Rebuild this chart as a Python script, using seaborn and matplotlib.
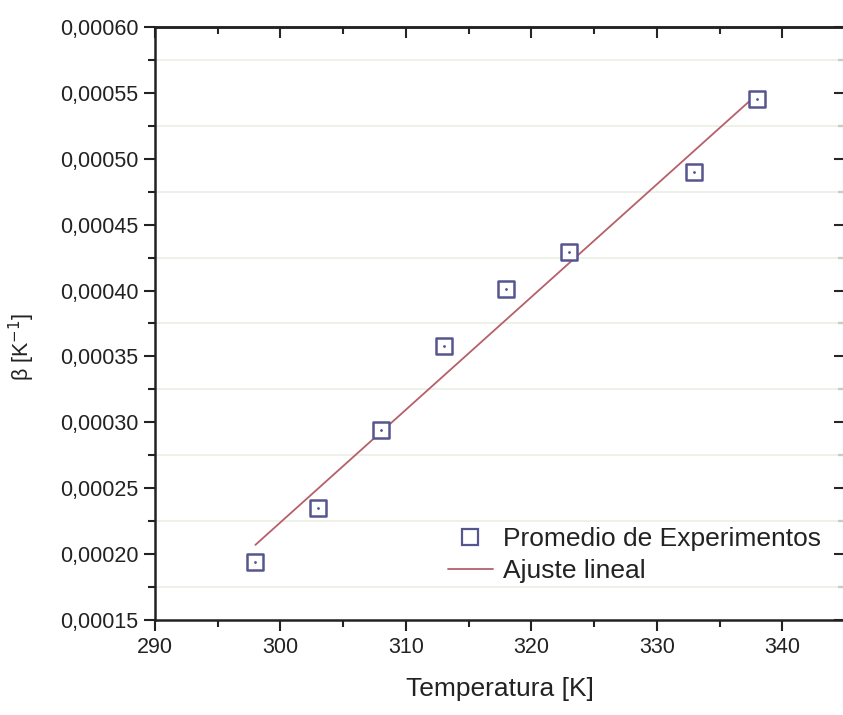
import numpy as np
import pandas as pd
import matplotlib
matplotlib.use("Agg")
import matplotlib.pyplot as plt
from matplotlib.ticker import MultipleLocator, FuncFormatter
from matplotlib.lines import Line2D
import seaborn as sns

# Data
temperatura = [298, 303, 308, 313, 318, 323, 333, 338]
beta = [0.000194, 0.000235, 0.000294, 0.000358, 0.000401, 0.000429, 0.000490, 0.000545]
fit_x = [298, 338]
fit_y = [0.000207, 0.000549]

sns.set_theme(style="white")
plt.rcParams['font.family'] = ['Liberation Sans', 'DejaVu Sans']

fig = plt.figure(figsize=(8.43, 7.15), dpi=100)
ax = fig.add_axes([155/843, 1-620/715, 690/843, (620-27)/715])

df = pd.DataFrame({"T": temperatura, "b": beta})
fit = pd.DataFrame({"T": fit_x, "b": fit_y})

line_color = "#b5606a"
mk_color = "#55558f"

sns.lineplot(data=fit, x="T", y="b", ax=ax, color=line_color, linewidth=1.3, zorder=2)
sns.scatterplot(data=df, x="T", y="b", ax=ax, marker="s", s=145, facecolor="white",
                edgecolor=mk_color, linewidth=1.8, zorder=3)
ax.plot(df["T"], df["b"], linestyle="none", marker=".", markersize=2, color=mk_color, zorder=4)

ax.set_xlim(290, 345)
ax.set_ylim(0.00015, 0.00060)
ax.xaxis.set_major_locator(MultipleLocator(10))
ax.xaxis.set_minor_locator(MultipleLocator(5))
ax.yaxis.set_major_locator(MultipleLocator(0.00005))
ax.yaxis.set_minor_locator(MultipleLocator(0.000025))
ax.yaxis.set_major_formatter(FuncFormatter(lambda v, p: f"{v:.5f}".replace('.', ',')))

ax.grid(False)
for yv in np.arange(0.000175, 0.0006, 0.00005):
    ax.axhline(yv, color="#eaefe4", linewidth=1.2, zorder=1)

for s in ax.spines.values():
    s.set_linewidth(1.8)
    s.set_color("#222222")

ax.tick_params(axis="both", which="major", direction="out", length=8, width=1.5,
               labelsize=15.5, colors="#222222", pad=4)
ax.tick_params(axis="both", which="minor", direction="out", length=5, width=1.5, colors="#222222")
ax.tick_params(bottom=True, left=True, which="both")

secx = ax.secondary_xaxis("top")
secx.xaxis.set_major_locator(MultipleLocator(10))
secx.xaxis.set_minor_locator(MultipleLocator(5))
secx.tick_params(which="major", direction="in", length=8, width=1.5, labeltop=False)
secx.tick_params(which="minor", direction="in", length=5, width=1.5)
secx.spines["top"].set_linewidth(1.8)

secy = ax.secondary_yaxis("right")
secy.yaxis.set_major_locator(MultipleLocator(0.00005))
secy.yaxis.set_minor_locator(MultipleLocator(0.000025))
secy.tick_params(which="major", direction="in", length=8, width=1.5, labelright=False)
secy.tick_params(which="minor", direction="in", length=5, width=1.5)

ax.set_xlabel("Temperatura [K]", fontsize=19, color="#222222", labelpad=14)
ax.set_ylabel(r"β [K$^{-1}$]", fontsize=15.5, color="#222222")
ax.yaxis.set_label_coords((37-155)/690, (620-347)/593)

handles = [
    Line2D([], [], linestyle="none", marker="s", markersize=11, markerfacecolor="white",
           markeredgecolor=mk_color, markeredgewidth=1.6),
    Line2D([], [], color=line_color, linewidth=1.3),
]
leg = ax.legend(handles, ["Promedio de Experimentos", "Ajuste lineal"],
                loc="center left", bbox_to_anchor=(448/843, 1-555/715),
                bbox_transform=fig.transFigure, frameon=False, fontsize=19,
                handlelength=1.7, handletextpad=0.4, labelspacing=0.3,
                borderpad=0, borderaxespad=0)
for t in leg.get_texts():
    t.set_color("#222222")

fig.savefig("out.png", dpi=100)
